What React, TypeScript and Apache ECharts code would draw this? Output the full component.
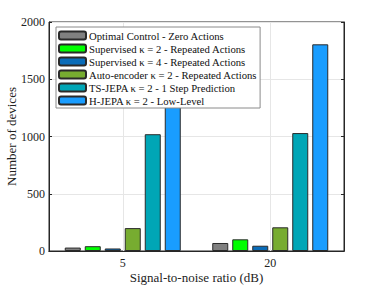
import React, { useEffect, useRef } from "react";
import * as echarts from "echarts";

const categories = ["5", "20"];
const seriesNames = [
  "Optimal Control - Zero Actions",
  "Supervised κ = 2 - Repeated Actions",
  "Supervised κ = 4 - Repeated Actions",
  "Auto-encoder κ = 2 - Repeated Actions",
  "TS-JEPA κ = 2 - 1 Step Prediction",
  "H-JEPA κ = 2 - Low-Level",
];
const optimalControl = [30, 70];
const supervisedK2 = [42, 102];
const supervisedK4 = [22, 46];
const autoEncoder = [200, 207];
const tsJepa = [1020, 1030];
const hJepa = [1500, 1805];
const seriesValues = [optimalControl, supervisedK2, supervisedK4, autoEncoder, tsJepa, hJepa];
const colors = ["#808080", "#00ff00", "#0a6cb8", "#77ac30", "#00a6b6", "#199dff"];
const yTicks = [0, 500, 1000, 1500, 2000];

const FONT = "'Liberation Serif', 'Times New Roman', serif";

export default function App() {
  const ref = useRef<HTMLDivElement>(null);
  useEffect(() => {
    if (!ref.current) return;
    const chart = echarts.init(ref.current, undefined, { renderer: "svg" });
    const axisColor = "#262626";
    chart.setOption({
      animation: false,
      textStyle: { fontFamily: FONT },
      grid: {
        left: 49,
        right: 37,
        top: 22,
        bottom: 35,
        containLabel: false,
        outerBoundsMode: "none",
        show: true,
        borderColor: axisColor,
        borderWidth: 1,
        backgroundColor: "#fff",
      },
      legend: {
        orient: "vertical",
        left: 56,
        top: 27,
        itemWidth: 27,
        itemHeight: 8,
        itemGap: 2,
        padding: [3, 3, 2, 2],
        backgroundColor: "#fff",
        borderColor: "#8a8a8a",
        borderWidth: 1,
        textStyle: {
          fontFamily: FONT,
          fontSize: 10.7,
          color: "#111",
          padding: [0, 0, 0, -2],
        },
        data: seriesNames,
      },
      xAxis: [
        {
          type: "category",
          data: categories,
          name: "Signal-to-noise ratio (dB)",
          nameLocation: "middle",
          nameGap: 20,
          nameMoveOverlap: false,
          nameTextStyle: { fontFamily: FONT, fontSize: 13, color: "#222" },
          axisLine: { lineStyle: { color: axisColor } },
          axisTick: { inside: true, alignWithLabel: true, length: 3, lineStyle: { color: axisColor } },
          axisLabel: { fontFamily: FONT, fontSize: 12, color: "#222", margin: 6 },
          splitLine: { show: true, interval: 0, alignWithLabel: true, lineStyle: { color: "#e6e6e6" } },
        },
        {
          type: "category",
          data: categories,
          position: "top",
          axisLine: { lineStyle: { color: axisColor } },
          axisTick: { inside: true, alignWithLabel: true, length: 3, lineStyle: { color: axisColor } },
          axisLabel: { show: false },
        },
      ],
      yAxis: [
        {
          type: "value",
          min: 0,
          max: 2000,
          interval: 500,
          name: "Number of devices",
          nameLocation: "middle",
          nameGap: 31,
          nameMoveOverlap: false,
          nameTextStyle: { fontFamily: FONT, fontSize: 13, color: "#222" },
          axisLine: { show: true, lineStyle: { color: axisColor } },
          axisTick: { show: true, inside: true, length: 3, lineStyle: { color: axisColor } },
          axisLabel: {
            fontFamily: FONT,
            fontSize: 12,
            color: "#222",
            margin: 4,
            formatter: (v: number) => (yTicks.includes(v) ? String(v) : ""),
          },
          splitLine: { show: true, lineStyle: { color: "#e6e6e6" } },
        },
        {
          type: "value",
          min: 0,
          max: 2000,
          interval: 500,
          position: "right",
          axisLine: { show: true, lineStyle: { color: axisColor } },
          axisTick: { show: true, inside: true, length: 3, lineStyle: { color: axisColor } },
          axisLabel: { show: false },
          splitLine: { show: false },
        },
      ],
      series: seriesNames.map((name, i) => ({
        name,
        type: "bar",
        data: seriesValues[i],
        barWidth: 16,
        barGap: "25%",
        itemStyle: { color: colors[i], borderColor: "#2a2a2a", borderWidth: 1 },
      })),
    });
    return () => chart.dispose();
  }, []);
  return (
    <div
      ref={ref}
      style={{ position: "absolute", left: 0, top: 0, width: 381, height: 286 }}
    />
  );
}
